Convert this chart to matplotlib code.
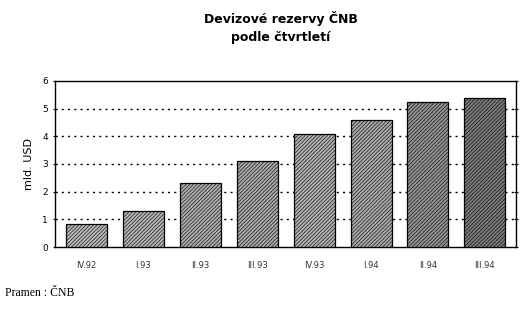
import matplotlib.pyplot as plt
import matplotlib as mpl

# Quarterly reserves (bn USD)
quarters = ['IV.92', 'I.93', 'II.93', 'III.93', 'IV.93', 'I.94', 'II.94', 'III.94']
reserves = [0.84, 1.30, 2.33, 3.12, 4.10, 4.58, 5.24, 5.39]
bar_colors = ['#b8b8b8', '#b4b4b4', '#acacac', '#a8a8a8', '#b0b0b0', '#a8a8a8', '#929292', '#7a7a7a']

mpl.rcParams['hatch.linewidth'] = 0.4
mpl.rcParams['hatch.color'] = '#606060'

fig = plt.figure(figsize=(5.3, 3.1), dpi=100)
ax = fig.add_axes([0.104, 0.203, 0.870, 0.536])

x = range(len(quarters))
ax.bar(x, reserves, width=0.72, color=bar_colors, edgecolor='black',
       linewidth=0.9, hatch='/////////', zorder=3)

# dotted grid lines
for v in range(1, 6):
    ax.axhline(v, color='black', linestyle=(0, (1.5, 3)), linewidth=1.0, zorder=1)

ax.set_ylim(0, 6)
ax.set_xlim(-0.55, len(quarters) - 0.45)
ax.set_yticks(range(0, 7))
ax.set_xticks(list(x))
ax.set_xticklabels(quarters, fontsize=6, color='#333333')
ax.tick_params(axis='x', length=0, pad=10)
ax.tick_params(axis='y', labelsize=6.5, length=3, direction='out', width=0.8)
ax.tick_params(axis='y', which='both', right=True, direction='inout')
for s in ax.spines.values():
    s.set_linewidth(1.0)

ax.set_ylabel('mld. USD', fontsize=8, labelpad=6)

fig.text(0.53, 0.912, 'Devizové rezervy ČNB\npodle čtvrtletí', ha='center', va='center',
         fontsize=9, fontweight='bold', linespacing=1.45)
fig.text(0.01, 0.055, 'Pramen : ČNB', ha='left', va='center', fontsize=8.5,
         family='Liberation Serif')

fig.savefig('out.png', dpi=100)
